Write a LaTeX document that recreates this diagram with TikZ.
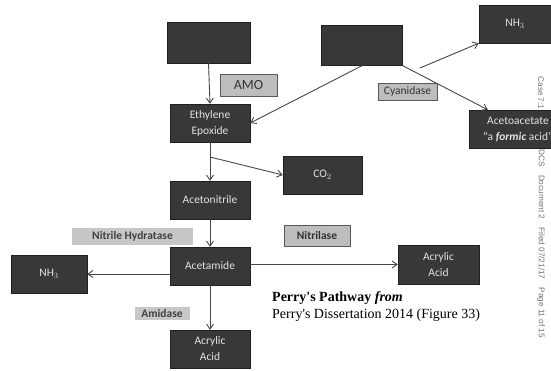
\documentclass[tikz,border=0pt]{standalone}
\usepackage{fontspec}
\setmainfont{Carlito}
\newfontfamily\capfont{Liberation Serif}[UprightFont=*,BoldFont=* Bold,
  ItalicFont=* Italic,BoldItalicFont=* Bold Italic]
\newfontfamily\stampfont{Liberation Sans}
\usetikzlibrary{arrows.meta}

\definecolor{boxdark}{HTML}{383838}
\definecolor{boxedge}{HTML}{202020}
\definecolor{boxtext}{HTML}{E2E2E2}
\definecolor{tagfill}{HTML}{BDBDBD}
\definecolor{linegray}{HTML}{474747}

\tikzset{
  chem/.style={draw=boxedge,fill=boxdark,text=boxtext,inner sep=0pt,
    align=center,font=\fontsize{11.5}{16}\selectfont},
  enzyme/.style={draw=black!65,fill=tagfill,text=black!80,inner sep=0pt,
    font=\fontsize{11.5}{13}\selectfont},
  bare/.style={fill=tagfill!85,text=black!75,inner sep=0pt,
    font=\bfseries\fontsize{11.5}{13}\selectfont},
  stamp/.style={rotate=-90,anchor=west,text=black!55,
    font=\stampfont\fontsize{8.2}{9}\selectfont},
  arr/.style={draw=linegray,line width=0.9pt,-{Straight Barb[length=5pt,width=7pt]}}
}

\begin{document}
\begin{tikzpicture}[x=1pt,y=-1pt]
\useasboundingbox (0,0) rectangle (551,371);

% court stamp on the right edge
\node[stamp] (stampa) at (541,73) {Case 7:1};
\node[stamp] (stampb) at (541,146) {DCS\quad Document 2\quad Filed 07/21/17\quad Page 11 of 15};

% dark boxes
\node[chem,minimum width=83,minimum height=41] (topa) at (208.5,42.5) {};
\node[chem,minimum width=81,minimum height=40] (topb) at (362,45.5) {};
\node[chem,minimum width=72,minimum height=38] (nhtop) at (515,24) {NH$_3$};
\node[chem,minimum width=98,minimum height=38] (aceto) at (518,129)
  {Acetoacetate\\``a \textbf{\textit{formic}} acid''};
\node[chem,minimum width=80,minimum height=38] (ethyl) at (210,123) {Ethylene\\Epoxide};
\node[chem,minimum width=79,minimum height=38] (co2) at (322.5,175) {CO$_2$};
\node[chem,minimum width=80,minimum height=38] (acn) at (210,200) {Acetonitrile};
\node[chem,minimum width=80,minimum height=38] (acm) at (210,266) {Acetamide};
\node[chem,minimum width=76,minimum height=38] (nhleft) at (49,274) {NH$_3$};
\node[chem,minimum width=80,minimum height=38] (acrb) at (210,349) {Acrylic\\Acid};
\node[chem,minimum width=81,minimum height=39] (acrr) at (438.5,264.5) {Acrylic\\Acid};

% connectors
\draw[arr] (topa.south) -- (ethyl.north);
\draw[arr] (topb.south) -- (ethyl.east);
\coordinate (nhstart) at (420,68);
\draw[arr] (nhstart) -- (nhtop.south west);
\draw[arr] (topb.south east) -- ([xshift=19pt]aceto.north west);
\draw[arr] (ethyl.south) -- (acn.north);
\coordinate (split) at (210,157);
\draw[arr] (split) -- (co2.west);
\draw[arr] (acn.south) -- (acm.north);
\draw[arr] (nhleft.east -| acm.west) -- (nhleft.east);
\draw[arr] (acrr.west -| acm.east) -- (acrr.west);
\draw[arr] (acm.south) -- (acrb.north);

% enzyme tags
\node[enzyme,minimum width=57,minimum height=22,font=\fontsize{14}{16}\selectfont] (amo) at (248.5,85) {AMO};
\node[enzyme,minimum width=59,minimum height=17] (cyan) at (407.5,91.5) {Cyanidase};
\node[bare,minimum width=121,minimum height=17] (nhyd) at (132.5,236.5) {Nitrile Hydratase};
\node[enzyme,minimum width=66,minimum height=21,font=\bfseries\fontsize{11.5}{13}\selectfont] (nitril) at (317,235.5) {Nitrilase};
\node[bare,minimum width=55,minimum height=13] (amid) at (162,313.5) {Amidase};

% caption
\node[anchor=west,align=left,inner sep=0pt,font=\capfont\fontsize{14}{17}\selectfont]
  (caption) at (272,306.5)
  {\textbf{Perry's Pathway \textit{from}}\\Perry's Dissertation 2014 (Figure 33)};
\end{tikzpicture}
\end{document}
